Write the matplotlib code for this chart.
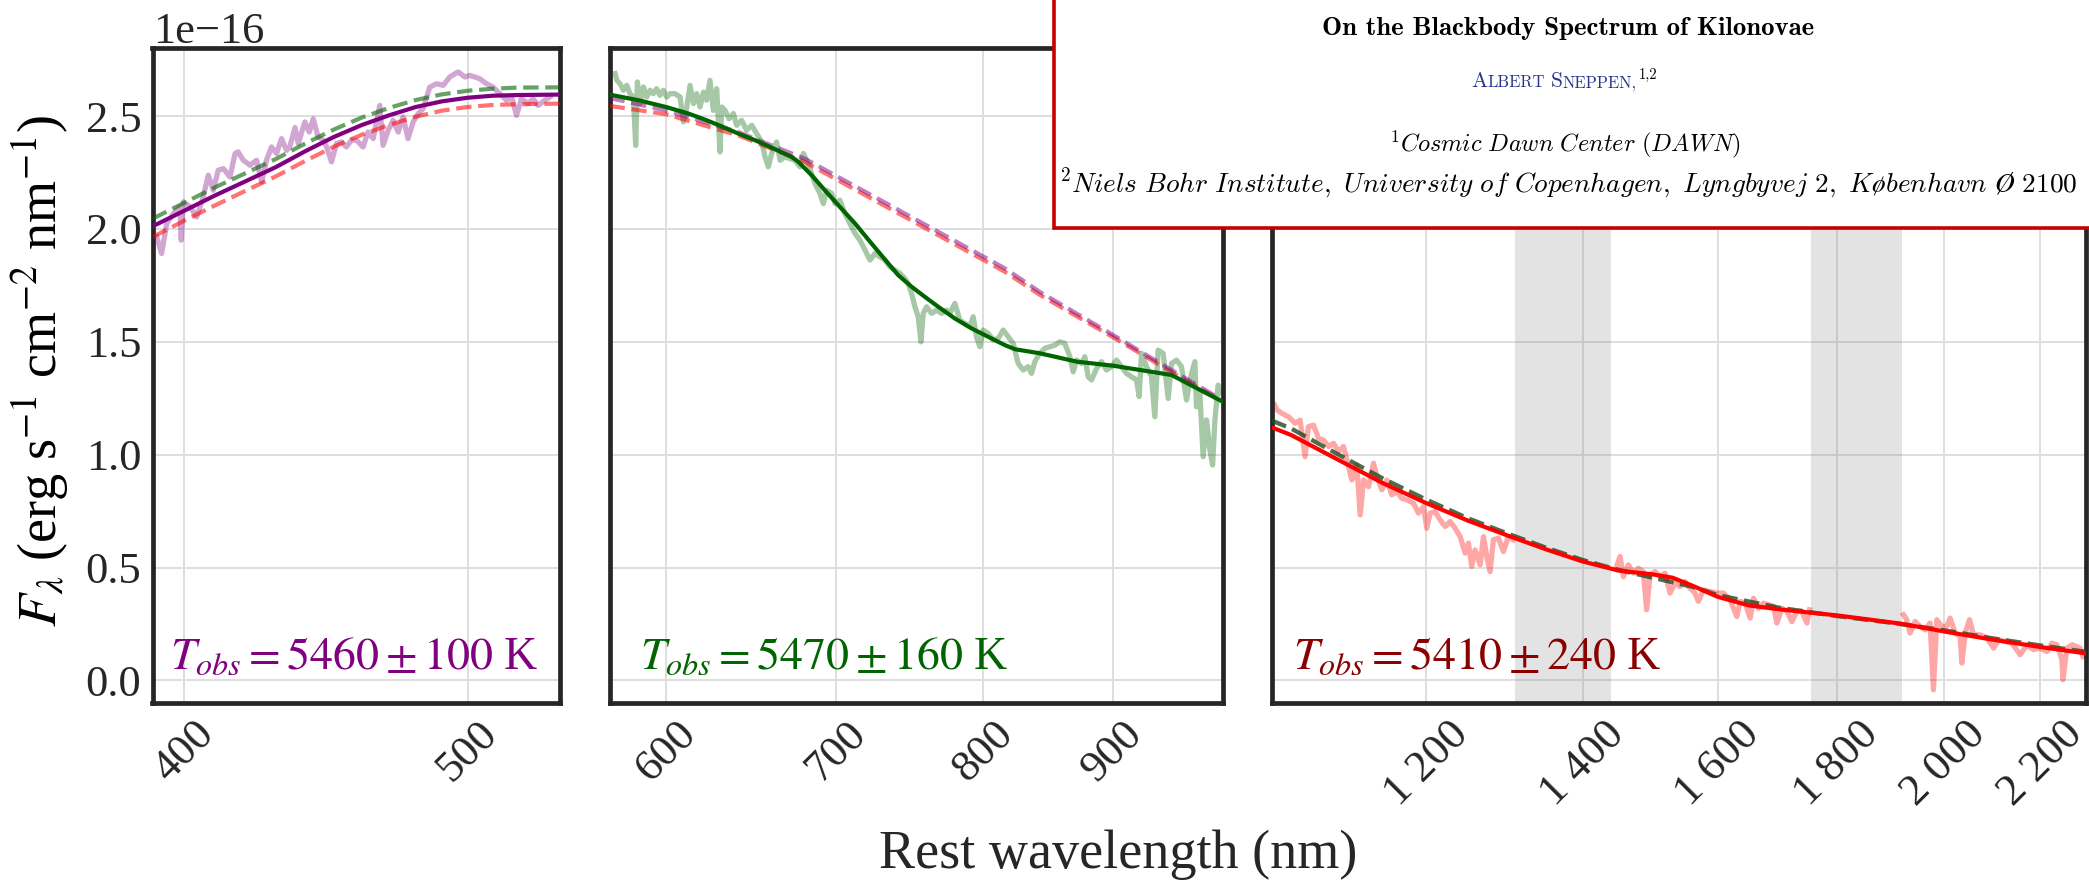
import numpy as np
import matplotlib
matplotlib.use("Agg")
import matplotlib.pyplot as plt
from matplotlib.patches import Rectangle
from matplotlib.transforms import IdentityTransform
from matplotlib.ticker import FixedLocator, NullLocator, FuncFormatter

# ---------------------------------------------------------------- data
SCALE = 1e-16  # flux values below are in units of 1e-16 erg/s/cm^2/nm

# UVB arm (390-538 nm)
uvb_wl = [391.5, 393.0, 394.6, 396.7, 398.7, 399.1, 399.8, 401.9, 404.0, 406.1,
          407.7, 409.3, 410.9, 412.6, 414.7, 416.4, 417.4, 419.1, 421.3, 423.5,
          425.2, 426.8, 428.5, 430.2, 431.9, 433.6, 434.7, 436.5, 437.6, 439.9,
          441.4, 442.8, 444.5, 446.3, 447.5, 449.2, 451.0, 452.8, 454.5, 456.3,
          458.1, 460.5, 462.3, 464.2, 466.6, 467.8, 469.7, 471.5, 473.4, 475.2,
          477.1, 479.0, 480.9, 482.8, 485.3, 487.9, 490.5, 493.0, 495.0, 496.3,
          498.9, 500.8, 502.8, 504.8, 507.5, 510.1, 512.8, 515.5, 517.6, 519.6,
          521.6, 524.4, 526.4, 528.5, 531.3, 533.4]
uvb_flux = [1.965, 1.891, 2.024, 2.068, 2.098, 1.950, 2.120, 2.098, 2.053, 2.142,
            2.238, 2.171, 2.260, 2.267, 2.230, 2.334, 2.341, 2.304, 2.282, 2.304,
            2.208, 2.304, 2.363, 2.334, 2.400, 2.348, 2.363, 2.449, 2.378, 2.474,
            2.429, 2.488, 2.407, 2.393, 2.363, 2.297, 2.378, 2.385, 2.363, 2.393,
            2.393, 2.363, 2.429, 2.400, 2.547, 2.370, 2.437, 2.481, 2.429, 2.496,
            2.400, 2.474, 2.510, 2.533, 2.628, 2.643, 2.636, 2.673, 2.687, 2.695,
            2.673, 2.680, 2.673, 2.665, 2.643, 2.628, 2.599, 2.570, 2.584, 2.503,
            2.577, 2.555, 2.577, 2.547, 2.570, 2.584]
uvb_model_wl = [390.2, 392, 400, 410, 420, 430, 440, 450, 460, 470, 480, 490, 500,
                510, 520, 537.8]
uvb_fit = [2.012, 2.024, 2.080, 2.149, 2.212, 2.274, 2.344, 2.407, 2.460, 2.503,
           2.540, 2.565, 2.581, 2.590, 2.593, 2.595]
uvb_vis_model = [2.047, 2.058, 2.115, 2.185, 2.248, 2.310, 2.378, 2.440, 2.493,
                 2.536, 2.571, 2.596, 2.612, 2.621, 2.626, 2.627]
uvb_nir_model = [1.964, 1.977, 2.036, 2.105, 2.170, 2.233, 2.301, 2.364, 2.417,
                 2.460, 2.497, 2.524, 2.540, 2.549, 2.552, 2.555]

# VIS arm (570-994 nm)
vis_wl = [572.9, 573.8, 575.5, 577.2, 579.0, 580.7, 582.5, 583.7, 584.6, 586.0,
          587.8, 589.6, 591.4, 593.1, 594.9, 596.7, 598.5, 600.4, 602.2, 604.9,
          607.7, 609.5, 611.4, 613.2, 615.1, 616.9, 618.8, 620.7, 622.5, 624.4,
          626.3, 628.2, 630.1, 631.1, 633.0, 635.3, 637.8, 639.7, 642.6, 645.5,
          648.5, 651.4, 654.4, 656.4, 658.3, 660.3, 663.3, 665.4, 668.4, 671.4,
          674.5, 677.5, 679.6, 681.6, 684.7, 686.8, 689.9, 692.0, 694.1, 697.3,
          699.4, 702.5, 705.7, 708.9, 712.2, 715.4, 718.7, 721.9, 725.2, 728.5,
          731.8, 735.1, 738.5, 741.8, 745.2, 747.4, 749.7, 752.0, 754.2, 756.1,
          757.7, 760.0, 763.4, 766.9, 770.4, 773.9, 776.2, 779.7, 783.3, 786.8,
          790.4, 792.8, 795.2, 797.6, 800.0, 803.7, 807.3, 811.0, 814.7, 818.4,
          822.1, 825.8, 829.6, 833.3, 835.9, 838.4, 842.2, 846.0, 849.9, 853.8,
          857.6, 861.5, 865.5, 868.1, 870.7, 874.7, 877.3, 880.0, 882.7, 886.7,
          890.7, 894.7, 898.8, 902.9, 907.0, 911.1, 915.2, 919.4, 921.6, 923.6,
          927.8, 932.0, 934.8, 937.6, 941.9, 946.2, 949.1, 953.4, 957.7, 962.1,
          965.0, 969.4, 970.8, 973.8, 976.7, 979.7, 982.7, 985.1, 987.2, 990.1,
          991.6]
vis_flux = [2.688, 2.658, 2.643, 2.614, 2.636, 2.599, 2.584, 2.370, 2.651, 2.555,
            2.629, 2.584, 2.614, 2.599, 2.621, 2.592, 2.614, 2.584, 2.599, 2.599,
            2.584, 2.474, 2.540, 2.636, 2.555, 2.599, 2.540, 2.606, 2.570, 2.658,
            2.525, 2.621, 2.341, 2.540, 2.525, 2.488, 2.511, 2.459, 2.481, 2.437,
            2.459, 2.422, 2.385, 2.319, 2.275, 2.334, 2.385, 2.304, 2.319, 2.311,
            2.304, 2.275, 2.334, 2.304, 2.245, 2.201, 2.157, 2.112, 2.171, 2.157,
            2.112, 2.127, 2.068, 2.024, 1.980, 1.950, 1.906, 1.862, 1.891, 1.876,
            1.862, 1.832, 1.817, 1.803, 1.780, 1.758, 1.714, 1.655, 1.611, 1.500,
            1.626, 1.655, 1.626, 1.640, 1.626, 1.640, 1.626, 1.670, 1.596, 1.581,
            1.567, 1.611, 1.522, 1.478, 1.552, 1.537, 1.508, 1.515, 1.552, 1.522,
            1.493, 1.404, 1.375, 1.390, 1.360, 1.412, 1.449, 1.471, 1.478, 1.485,
            1.500, 1.493, 1.434, 1.367, 1.419, 1.404, 1.434, 1.345, 1.331, 1.382,
            1.412, 1.375, 1.390, 1.419, 1.390, 1.360, 1.345, 1.331, 1.257, 1.449,
            1.390, 1.345, 1.168, 1.463, 1.449, 1.249, 1.404, 1.419, 1.390, 1.242,
            1.331, 1.412, 1.212, 1.272, 0.991, 1.154, 1.021, 0.954, 1.154, 1.308,
            1.272]
vis_fit_wl = [570.0, 585.1, 600.0, 612.3, 621.6, 631.1, 640.7, 650.4, 660.3, 672.4,
              676.5, 684.7, 693.0, 701.5, 712.2, 723.0, 734.0, 740.7, 749.7, 758.8,
              768.1, 779.8, 791.7, 803.7, 816.0, 823.5, 842.2, 870.9, 900.1, 949.0,
              994.0]
vis_fit = [2.595, 2.570, 2.540, 2.511, 2.484, 2.454, 2.422, 2.393, 2.360, 2.319,
           2.297, 2.238, 2.171, 2.105, 2.024, 1.935, 1.847, 1.795, 1.744, 1.699,
           1.655, 1.603, 1.559, 1.522, 1.485, 1.467, 1.449, 1.412, 1.394, 1.353,
           1.235]
vis_model_wl = [570.0, 600.0, 640.7, 680.5, 723.0, 768.1, 816.0, 842.2, 868.1, 900.1,
                922.1, 950.3, 991.4, 994.0]
vis_uvb_model = [2.580, 2.525, 2.429, 2.311, 2.149, 1.987, 1.825, 1.721, 1.634, 1.530,
                 1.459, 1.371, 1.249, 1.240]
vis_nir_model = [2.545, 2.508, 2.414, 2.296, 2.134, 1.972, 1.810, 1.708, 1.622, 1.520,
                 1.450, 1.362, 1.243, 1.235]

# NIR arm (1030-2300 nm); telluric windows are masked
nir_wl = [1033.0, 1035.4, 1040.4, 1047.2, 1054.1, 1059.3, 1064.5, 1068.0, 1073.4, 1078.7,
          1084.0, 1089.5, 1094.9, 1100.3, 1105.7, 1111.2, 1114.8, 1120.3, 1124.0, 1127.8,
          1133.3, 1138.9, 1142.7, 1148.3, 1153.9, 1159.6, 1165.4, 1171.2, 1177.0, 1184.8,
          1190.6, 1196.5, 1200.4, 1204.4, 1210.3, 1216.3, 1222.4, 1228.4, 1234.5, 1240.6,
          1246.7, 1250.8, 1254.9, 1259.0, 1265.3, 1269.5, 1273.6, 1277.8, 1282.0, 1288.4,
          1294.7, 1301.1, 1307.6,
          1447.9, 1452.7, 1457.5, 1464.7, 1471.9, 1479.2, 1486.5, 1491.4, 1496.4, 1503.8,
          1511.2, 1518.7, 1526.2, 1533.7, 1541.3, 1549.0, 1556.6, 1564.3, 1569.5, 1577.4,
          1587.9, 1598.3, 1608.9, 1619.5, 1630.2, 1635.6, 1643.7, 1651.9, 1657.3, 1665.5,
          1673.8, 1682.0, 1690.4, 1696.0, 1704.4, 1712.8, 1721.3, 1729.8, 1738.4, 1747.0,
          1751.6,
          1921.6, 1927.9, 1934.3, 1943.9, 1953.5, 1963.2, 1972.9, 1979.4, 1986.0, 1995.8,
          2005.7, 2012.3, 2022.4, 2032.3, 2035.7, 2042.4, 2051.2, 2059.3, 2072.9, 2086.6,
          2100.4, 2110.8, 2124.7, 2138.8, 2156.4, 2170.7, 2185.0, 2199.4, 2214.0, 2224.9,
          2236.0, 2247.0, 2249.3, 2258.2, 2270.0, 2288.2, 2294.2]
nir_flux = [1.220, 1.198, 1.183, 1.168, 1.139, 1.153, 0.991, 1.124, 1.131, 1.072,
            1.065, 1.036, 1.050, 1.013, 1.036, 0.947, 0.888, 0.954, 0.733, 0.888,
            0.858, 0.962, 0.903, 0.844, 0.888, 0.822, 0.836, 0.807, 0.800, 0.785,
            0.741, 0.770, 0.674, 0.741, 0.748, 0.711, 0.682, 0.704, 0.674, 0.637,
            0.564, 0.608, 0.505, 0.578, 0.512, 0.637, 0.549, 0.482, 0.623, 0.630,
            0.571, 0.637, 0.623,
            0.505, 0.549, 0.460, 0.512, 0.475, 0.497, 0.482, 0.313, 0.468, 0.482,
            0.460, 0.475, 0.387, 0.431, 0.416, 0.438, 0.409, 0.387, 0.350, 0.401,
            0.394, 0.387, 0.387, 0.357, 0.283, 0.350, 0.342, 0.276, 0.364, 0.320,
            0.342, 0.335, 0.328, 0.254, 0.320, 0.306, 0.261, 0.306, 0.306, 0.254,
            0.313,
            0.291, 0.269, 0.210, 0.261, 0.239, 0.224, 0.254, -0.041, 0.269, 0.239,
            0.239, 0.276, 0.210, 0.195, 0.077, 0.210, 0.269, 0.202, 0.202, 0.188,
            0.143, 0.180, 0.173, 0.165, 0.114, 0.158, 0.136, 0.143, 0.128, 0.165,
            0.158, 0.092, 0.003, 0.143, 0.158, 0.143, 0.106]
nir_fit_wl = [1030, 1050, 1100, 1150, 1200, 1250, 1300, 1350, 1400, 1450, 1500, 1530,
              1560, 1600, 1650, 1700, 1754, 1800, 1918, 2000, 2100, 2200, 2300]
nir_fit = [1.121, 1.087, 0.977, 0.873, 0.785, 0.708, 0.642, 0.581, 0.527, 0.487,
           0.470, 0.455, 0.420, 0.370, 0.332, 0.315, 0.300, 0.288, 0.251, 0.217,
           0.180, 0.148, 0.120]
nir_model_wl = [1030, 1050, 1100, 1150, 1200, 1250, 1300, 1350, 1400, 1450, 1500, 1560,
                1600, 1700, 1800, 1900, 2000, 2100, 2200, 2300]
nir_uvb_model = [1.150, 1.115, 1.000, 0.893, 0.800, 0.718, 0.650, 0.588, 0.533, 0.490,
                 0.455, 0.415, 0.378, 0.322, 0.285, 0.255, 0.222, 0.186, 0.155, 0.127]
nir_vis_model = [1.152, 1.116, 1.001, 0.894, 0.801, 0.719, 0.651, 0.589, 0.534, 0.490,
                 0.455, 0.415, 0.378, 0.322, 0.285, 0.255, 0.222, 0.186, 0.155, 0.127]
telluric_bands = [(1310, 1440), (1754, 1918)]

# fitted temperatures
temps = [5460, 5470, 5410]
temp_errs = [100, 160, 240]

# axis set-up per arm
xlims = [(390.2, 537.8), (570.0, 994.0), (1030.0, 2300.0)]
xticks = [[400, 500], [600, 700, 800, 900], [1200, 1400, 1600, 1800, 2000, 2200]]
flux_ticks = [0.0, 0.5, 1.0, 1.5, 2.0, 2.5]
flux_lim = (-0.1, 2.8)

# ---------------------------------------------------------------- style
PURPLE, GREEN, RED, DARKRED = "#800080", "#006400", "#ff0000", "#8b0000"
INK = "#262626"
plt.rcParams.update({
    "font.family": "serif",
    "font.serif": ["Liberation Serif", "DejaVu Serif"],
    "mathtext.fontset": "stix",
    "axes.unicode_minus": True,
    "xtick.labelsize": 32,
    "ytick.labelsize": 32,
    "xtick.color": INK,
    "ytick.color": INK,
    "xtick.major.size": 0,
    "ytick.major.size": 0,
    "xtick.major.pad": 8,
    "ytick.major.pad": 8,
    "axes.grid": True,
    "axes.axisbelow": True,
    "grid.color": "#dedede",
    "grid.linewidth": 1.4,
    "axes.edgecolor": INK,
    "axes.linewidth": 3.4,
    "text.color": INK,
})

W, H = 2089, 881
fig = plt.figure(figsize=(W / 100, H / 100), dpi=100)
ID = IdentityTransform()


def px_rect(left, right, top, bottom):
    return [left / W, (H - bottom) / H, (right - left) / W, (bottom - top) / H]


ax1 = fig.add_axes(px_rect(152.5, 560.3, 48.3, 703.0))
ax2 = fig.add_axes(px_rect(609.5, 1222.5, 48.3, 703.0), sharey=ax1)
ax3 = fig.add_axes(px_rect(1271.7, 2085.5, 48.3, 703.0), sharey=ax1)
axes = [ax1, ax2, ax3]

s = lambda v: np.asarray(v, dtype=float) * SCALE
spec_kw = dict(lw=3.8, alpha=0.35, zorder=2)
fit_kw = dict(lw=3.0, zorder=4)
dash_kw = dict(lw=3.0, ls="--", zorder=3)

# UVB panel
ax1.plot(uvb_wl, s(uvb_flux), color=PURPLE, **spec_kw)
ax1.plot(uvb_model_wl, s(uvb_vis_model), color=GREEN, alpha=0.6, **dash_kw)
ax1.plot(uvb_model_wl, s(uvb_nir_model), color=RED, alpha=0.55, **dash_kw)
ax1.plot(uvb_model_wl, s(uvb_fit), color=PURPLE, **fit_kw)

# VIS panel
ax2.plot(vis_wl, s(vis_flux), color=GREEN, **spec_kw)
ax2.plot(vis_model_wl, s(vis_nir_model), color=RED, alpha=0.55, **dash_kw)
ax2.plot(vis_model_wl, s(vis_uvb_model), color=PURPLE, alpha=0.5, **dash_kw)
ax2.plot(vis_fit_wl, s(vis_fit), color=GREEN, **fit_kw)

# NIR panel: break the spectrum across the telluric windows
nw = np.asarray(nir_wl, float)
nf = s(nir_flux)
cut = [i + 1 for i in range(len(nw) - 1)
       if any(nw[i] < lo and nw[i + 1] > hi for lo, hi in telluric_bands)]
for seg_w, seg_f in zip(np.split(nw, cut), np.split(nf, cut)):
    ax3.plot(seg_w, seg_f, color=RED, **spec_kw)
for lo, hi in telluric_bands:
    ax3.axvspan(lo, hi, color="0.5", alpha=0.22, lw=0, zorder=1)
ax3.plot(nir_model_wl, s(nir_uvb_model), color=PURPLE, alpha=0.5, **dash_kw)
ax3.plot(nir_model_wl, s(nir_vis_model), color=GREEN, alpha=0.6, **dash_kw)
ax3.plot(nir_fit_wl, s(nir_fit), color=RED, **fit_kw)

# axes
for i, ax in enumerate(axes):
    ax.set_xscale("log")
    ax.set_xlim(*xlims[i])
    ax.xaxis.set_major_locator(FixedLocator(xticks[i]))
    ax.xaxis.set_minor_locator(NullLocator())
    if i == 2:
        ax.xaxis.set_major_formatter(FuncFormatter(lambda v, p: f"{int(round(v)):,}".replace(",", " ")))
    else:
        ax.xaxis.set_major_formatter(FuncFormatter(lambda v, p: f"{int(round(v))}"))
    ax.tick_params(axis="x", labelrotation=45)
    for sp in ax.spines.values():
        sp.set_linewidth(3.4)
        sp.set_color(INK)

ax1.set_ylim(s(flux_lim))
ax1.yaxis.set_major_locator(FixedLocator(s(flux_ticks)))
ax1.yaxis.set_minor_locator(NullLocator())
ax1.yaxis.set_major_formatter(FuncFormatter(lambda v, p: f"{v / SCALE:.1f}"))
for ax in (ax2, ax3):
    ax.tick_params(axis="y", labelleft=False)
# multiplier of the shared flux axis
fig.text(153, H - 43, "1e\u221216", transform=ID, fontsize=32, ha="left", va="baseline")

ax1.set_ylabel(r"$F_\lambda$ (erg s$^{-1}$ cm$^{-2}$ nm$^{-1}$)", fontsize=39)
ax1.yaxis.set_label_coords(-0.197, 0.507)
fig.text(1118, 13, "Rest wavelength (nm)", transform=ID, ha="center",
         va="baseline", fontsize=39)

label_x = [0.043, 0.050, 0.026]
for ax, T, dT, c, x in zip(axes, temps, temp_errs, [PURPLE, GREEN, DARKRED], label_x):
    ax.text(x, 0.052, rf"$T_{{obs}} = {T} \pm {dT}$ K", transform=ax.transAxes,
            color=c, fontsize=33, va="baseline", ha="left", zorder=6)

# ---------------------------------------------------------------- paper header
fig.add_artist(Rectangle((1053.5, H - 228), 1200, 400, transform=ID, facecolor="white",
                         edgecolor="#c80000", lw=2.6, zorder=5, clip_on=False))
renderer = fig.canvas.get_renderer()


def header_row(pieces, cx, baseline):
    """Lay out text pieces left to right on one baseline, centred on cx."""
    made = []
    for text, kw in pieces:
        kw = dict(kw)
        dy = kw.pop("dy", 0)
        gap = kw.pop("gap", 0)
        t = fig.text(0, 0, text, transform=ID, ha="left", va="baseline", zorder=6, **kw)
        made.append((t, dy, gap, t.get_window_extent(renderer).width))
    total = sum(w + g for _, _, g, w in made)
    x = cx - total / 2
    for t, dy, gap, w in made:
        x += gap
        t.set_position((x, H - baseline + dy))
        x += w


HEAD_CX = 1568
BLUE = "#26328c"
fig.text(HEAD_CX, H - 35, "On the Blackbody Spectrum of Kilonovae", transform=ID,
         family="cmb10", fontsize=19.3, ha="center", va="baseline", color="black", zorder=6)
cap = dict(family="cmr10", fontsize=15.5, color=BLUE)
small = dict(family="cmr10", fontsize=11.9, color=BLUE)
header_row([("A", cap), ("LBERT", small), ("S", dict(cap, gap=6)), ("NEPPEN,", small),
            ("1,2", dict(family="cmr10", fontsize=10.5, color="black", dy=8, gap=2))],
           HEAD_CX - 4, 87.3)
fig.text(HEAD_CX - 3, H - 151, r"$^{1}\mathit{Cosmic\ Dawn\ Center\ (DAWN)}$", transform=ID,
         math_fontfamily="cm", fontsize=17.5, ha="center", va="baseline", color="black",
         zorder=6)
fig.text(1059, H - 192,
         r"$^{2}\mathit{Niels\ Bohr\ Institute,\ University\ of\ Copenhagen,\ Lyngbyvej\ }"
         r"\mathrm{2}\mathit{,\ København\ Ø\ }\mathrm{2100}$",
         transform=ID, math_fontfamily="cm", fontsize=19.7, ha="left", va="baseline",
         color="black", zorder=6)

fig.savefig("out.png", dpi=100)
